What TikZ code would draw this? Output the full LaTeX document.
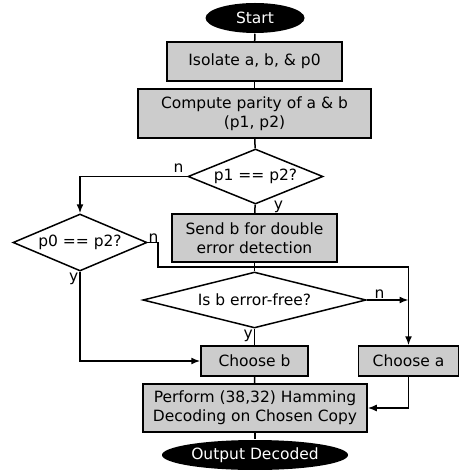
\documentclass[tikz,border=0pt]{standalone}
\usepackage{fontspec}
\setmainfont{DejaVu Sans}
\usetikzlibrary{shapes.geometric,arrows.meta}

\begin{document}
\begin{tikzpicture}[x=1pt,y=-1pt,>={Latex[length=9pt,width=7pt]},line width=1.5pt,
		every node/.style={font=\fontsize{15.5}{19}\selectfont},
		term/.style={ellipse,fill=black,text=white,inner sep=0pt,minimum height=30pt},
		proc/.style={rectangle,draw,fill=black!20,align=center,inner sep=0pt,minimum height=30pt},
		cond/.style={diamond,draw,aspect=3,inner ysep=0pt,inner xsep=-15pt},
		lbl/.style={inner sep=1pt}]
			\useasboundingbox (0,0) rectangle (459,470);
			
			\begin{scope}
				\node[term,minimum width=99pt] (start) at (255,18) {Start};
				\node[proc,minimum width=175pt,minimum height=39pt] (iso) at (254.5,61.5) {Isolate a, b, \& p0};
				\node[proc,minimum width=233pt,minimum height=49pt] (comp) at (254.5,113.5) {Compute parity of a \& b\\(p1, p2)};
				\node[cond,minimum width=135pt,minimum height=55pt] (d1) at (255.5,176.5) {p1 == p2?};
				\node[proc,minimum width=165pt,minimum height=48pt] (send) at (254.5,238) {Send b for double\\error detection};
				\node[cond,minimum width=134pt,minimum height=57pt] (d0) at (80,242.5) {p0 == p2?};
				\node[cond,minimum width=223pt,minimum height=56pt] (d2) at (254.5,300) {Is b error-free?};
				\node[proc,minimum width=107pt] (chb) at (254.5,361) {Choose b};
				\node[proc,minimum width=100pt] (cha) at (408.5,361) {Choose a};
				\node[proc,minimum width=224pt,minimum height=48pt] (perf) at (255,408) {Perform (38,32) Hamming\\Decoding on Chosen Copy};
				\node[term,minimum width=186pt] (out) at (255,455) {Output Decoded};
			\end{scope}
			
			\coordinate (bend) at (158,267);
			
			\draw (start) -- (iso);
			\draw (iso) -- (comp);
			\draw (comp) -- (d1);
			\draw (d1) -- (send);
			\draw (send) -- (d2);
			\draw (d2) -- (chb);
			\draw (chb) -- (perf);
			\draw (perf) -- (out);
			\draw [->] (d1.west) -| (d0.north);
			\draw [->] (d0.east) -| (bend) -| (cha.north);
			\draw [->] (d2.east) -- (d2.east -| cha.north);
			\draw [->] (d0.south) |- (chb.west);
			\draw [->] (cha.south) |- (perf.east);
			
			\node[lbl,above left] at ([xshift=-2pt,yshift=2pt]d1.west) {n};
			\node[lbl] at ([xshift=23pt,yshift=-2pt]d1.south) {y};
			\node[lbl,above right] at ([xshift=-1pt,yshift=-2pt]d0.east) {n};
			\node[lbl,below left] at (d0.south) {y};
			\node[lbl,above right] at ([xshift=6pt]d2.east) {n};
			\node[lbl,below left] at (d2.south) {y};
		\end{tikzpicture}
\end{document}
